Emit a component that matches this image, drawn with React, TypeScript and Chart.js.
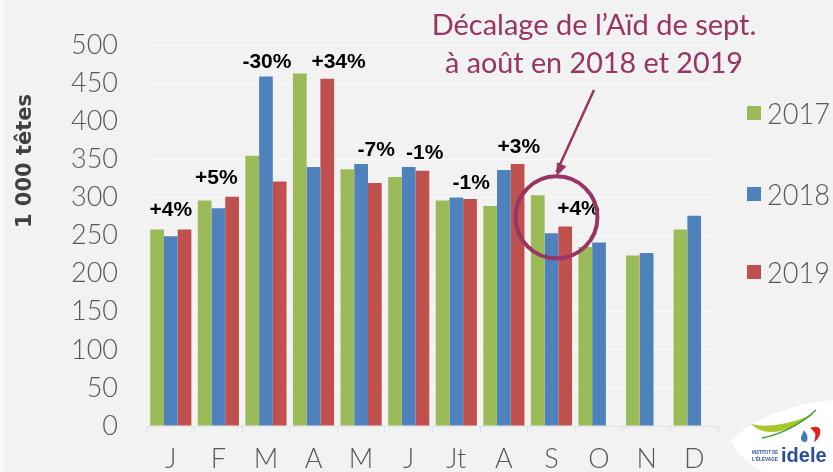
import React, { useEffect, useRef } from "react";
import { Chart, registerables } from "chart.js";

Chart.register(...registerables);

// ---- data ----
const months = ["J", "F", "M", "A", "M", "J", "Jt", "A", "S", "O", "N", "D"];
const series2017 = [258, 296, 355, 463, 337, 327, 296, 289, 303, 235, 224, 258];
const series2018 = [249, 286, 459, 340, 344, 340, 300, 336, 253, 241, 227, 276];
const series2019 = [258, 301, 321, 456, 319, 335, 298, 344, 262, null, null, null];
const legendYears = ["2017", "2018", "2019"];
const changeLabels = ["+4%", "+5%", "-30%", "+34%", "-7%", "-1%", "-1%", "+3%", "+4%"];
const changeLabelLevels = [286, 327, 480, 480, 364, 361, 321, 368, 287];
const yMin = 0;
const yMax = 500;
const yStep = 50;
const yTitle = "1 000 têtes";
const noteLines = ["Décalage de l’Aïd de sept.", "à août en 2018 et 2019"];
const highlightMonthIndex = 8;
const highlightLevel = 274;

// ---- styles ----
const GREEN = "#9BBB59";
const BLUE = "#4F81BD";
const RED = "#C0504D";
const BG = "#F2F2F2";
const TXT = "#595959";
const PURPLE = "#983563";
const LIGHT_FONT = "Lato, 'Open Sans', sans-serif";
const labelShiftPx = [0, -2, 1, 25, 15, 16, 15, 15, 27];

export default function App() {
  const ref = useRef<HTMLCanvasElement>(null);

  useEffect(() => {
    const canvas = ref.current!;
    const overlay = {
      id: "overlay",
      beforeDraw(chart: any) {
        const ctx = chart.ctx;
        ctx.save();
        ctx.fillStyle = BG;
        ctx.fillRect(0, 0, chart.width, chart.height);
        ctx.fillStyle = "#FAFAFA";
        ctx.fillRect(0, 0, 4, chart.height);
        ctx.restore();
      },
      afterDatasetsDraw(chart: any) {
        const ctx = chart.ctx;
        const xs = chart.scales.x;
        const ys = chart.scales.y;
        ctx.save();
        // change labels
        ctx.fillStyle = "#000";
        ctx.font = "bold 21px 'Liberation Sans', Arial, sans-serif";
        ctx.textAlign = "center";
        ctx.textBaseline = "alphabetic";
        changeLabels.forEach((t, i) => {
          const x = xs.getPixelForValue(i) + labelShiftPx[i];
          const y = ys.getPixelForValue(changeLabelLevels[i]) + 7.5;
          ctx.fillText(t, x, y);
        });
        // highlight circle
        const cx = xs.getPixelForValue(highlightMonthIndex) + 5;
        const cy = ys.getPixelForValue(highlightLevel);
        const r = 41;
        ctx.strokeStyle = PURPLE;
        ctx.lineWidth = 4;
        ctx.beginPath();
        ctx.arc(cx, cy, r, 0, Math.PI * 2);
        ctx.stroke();
        // arrow
        const sx = 594, sy = 90;
        const ex = cx, ey = cy - r;
        ctx.lineWidth = 2.5;
        ctx.beginPath();
        ctx.moveTo(sx, sy);
        ctx.lineTo(ex, ey - 4);
        ctx.stroke();
        const ang = Math.atan2(ey - sy, ex - sx);
        ctx.fillStyle = PURPLE;
        ctx.beginPath();
        ctx.moveTo(ex, ey);
        ctx.lineTo(ex - 14 * Math.cos(ang - 0.38), ey - 14 * Math.sin(ang - 0.38));
        ctx.lineTo(ex - 14 * Math.cos(ang + 0.38), ey - 14 * Math.sin(ang + 0.38));
        ctx.closePath();
        ctx.fill();
        ctx.restore();
      },
      afterDraw(chart: any) {
        const ctx = chart.ctx;
        ctx.save();
        // annotation text
        ctx.fillStyle = PURPLE;
        ctx.textAlign = "center";
        ctx.textBaseline = "alphabetic";
        ctx.font = "29px Lato, 'Open Sans', sans-serif";
        ctx.fillText(noteLines[0], 594, 35, 331);
        ctx.fillText(noteLines[1], 594, 73, 298);

        // y title
        ctx.save();
        ctx.translate(31, 161);
        ctx.rotate(-Math.PI / 2);
        ctx.fillStyle = "#404040";
        ctx.font = "bold 21px 'DejaVu Sans', sans-serif";
        ctx.textAlign = "center";
        ctx.textBaseline = "alphabetic";
        ctx.fillText(yTitle, 0, 0);
        ctx.restore();

        // legend
        const colors = [GREEN, BLUE, RED];
        const ly = [113, 194, 272];
        ctx.font = "300 30px " + LIGHT_FONT;
        ctx.textAlign = "left";
        ctx.textBaseline = "middle";
        legendYears.forEach((t, i) => {
          ctx.fillStyle = colors[i];
          ctx.fillRect(747, ly[i] - 7, 14, 14);
          ctx.fillStyle = TXT;
          ctx.fillText(t, 767, ly[i] + 1, 63);
        });

        // logo
        ctx.fillStyle = "#FFFFFF";
        ctx.beginPath();
        ctx.moveTo(731, 440);
        ctx.quadraticCurveTo(768, 406, 833, 400);
        ctx.lineTo(833, 472);
        ctx.lineTo(762, 472);
        ctx.quadraticCurveTo(738, 458, 731, 440);
        ctx.closePath();
        ctx.fill();
        // swoosh
        ctx.fillStyle = "#A6C82A";
        ctx.beginPath();
        ctx.moveTo(751, 424);
        ctx.quadraticCurveTo(772, 444, 814, 414);
        ctx.quadraticCurveTo(776, 430, 751, 424);
        ctx.closePath();
        ctx.fill();
        ctx.strokeStyle = "#3E9A3A";
        ctx.lineWidth = 1.5;
        ctx.beginPath();
        ctx.moveTo(762, 438);
        ctx.quadraticCurveTo(792, 432, 816, 410);
        ctx.stroke();
        // red and blue marks
        ctx.fillStyle = "#E2231A";
        ctx.beginPath();
        ctx.moveTo(810, 428);
        ctx.quadraticCurveTo(822, 424, 820, 434);
        ctx.quadraticCurveTo(818, 440, 814, 442);
        ctx.quadraticCurveTo(818, 432, 810, 428);
        ctx.closePath();
        ctx.fill();
        ctx.fillStyle = "#3A7CC2";
        ctx.beginPath();
        ctx.moveTo(804, 430);
        ctx.quadraticCurveTo(810, 438, 806, 442);
        ctx.quadraticCurveTo(800, 442, 801, 437);
        ctx.closePath();
        ctx.fill();
        // texts
        ctx.fillStyle = "#2A4E9C";
        ctx.textAlign = "left";
        ctx.textBaseline = "alphabetic";
        ctx.font = "bold 5px 'Liberation Sans', sans-serif";
        ctx.fillText("INSTITUT DE", 752, 454, 26);
        ctx.fillText("L’ÉLEVAGE", 752, 461, 26);
        ctx.font = "bold 20px 'Liberation Sans', sans-serif";
        ctx.fillText("idele", 781, 462);
        ctx.restore();
      },
    };

    const chart = new Chart(canvas, {
      type: "bar",
      data: {
        labels: months,
        datasets: [
          { label: legendYears[0], data: series2017, backgroundColor: GREEN },
          { label: legendYears[1], data: series2018, backgroundColor: BLUE },
          { label: legendYears[2], data: series2019 as any, backgroundColor: RED },
        ],
      },
      options: {
        responsive: false,
        animation: false,
        devicePixelRatio: 1,
        layout: { padding: { top: 24, right: 115, left: 0, bottom: 0 } },
        plugins: { legend: { display: false }, tooltip: { enabled: false } },
        datasets: { bar: { categoryPercentage: 0.865, barPercentage: 1 } },
        scales: {
          x: {
            grid: {
              offset: true,
              drawOnChartArea: false,
              drawTicks: true,
              tickLength: 8,
              color: "#E2E2E2",
            },
            border: { color: "#E2E2E2" },
            ticks: {
              color: TXT,
              font: { family: LIGHT_FONT, size: 27, weight: "300" as any },
              padding: 9,
              maxRotation: 0,
              autoSkip: false,
            },
            afterFit(s: any) {
              s.height = 46;
            },
          },
          y: {
            min: yMin,
            max: yMax,
            ticks: {
              stepSize: yStep,
              padding: 29,
              color: TXT,
              font: { family: LIGHT_FONT, size: 27, weight: "300" as any },
            },
            grid: { color: "#FAFAFA", drawTicks: false },
            border: { display: false },
            afterFit(s: any) {
              s.width = 147;
            },
          },
        },
      },
      plugins: [overlay],
    });
    return () => chart.destroy();
  }, []);

  return (
    <div
      style={{
        position: "fixed",
        left: 0,
        top: 0,
        width: 833,
        height: 472,
        background: BG,
      }}
    >
      <canvas ref={ref} width={833} height={472} style={{ display: "block" }} />
    </div>
  );
}
